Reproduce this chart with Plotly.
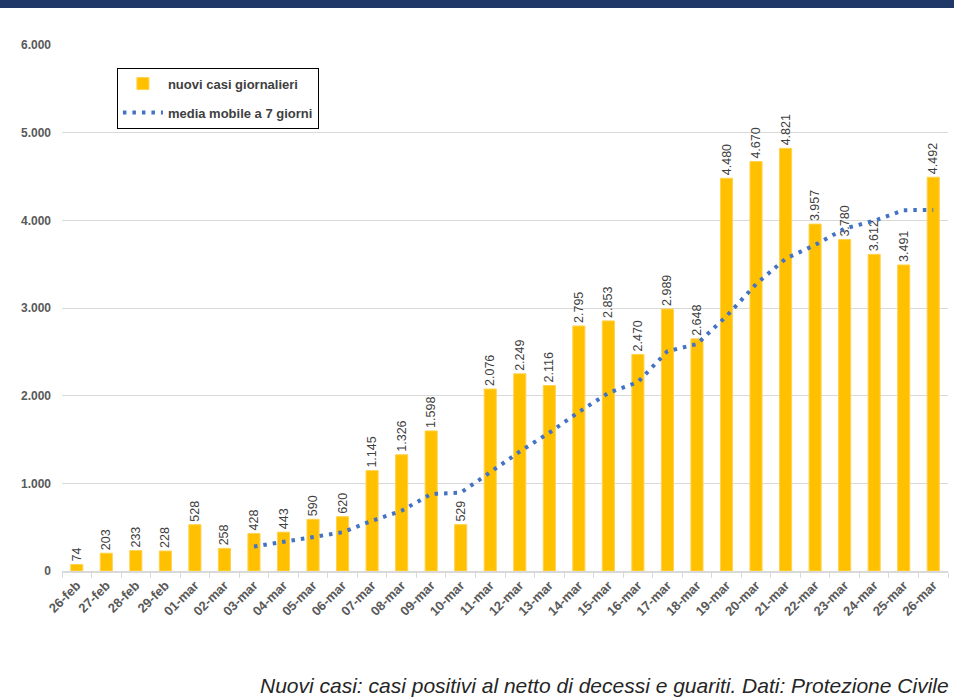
import plotly.graph_objects as go

dates = ["26-feb", "27-feb", "28-feb", "29-feb", "01-mar", "02-mar", "03-mar", "04-mar",
         "05-mar", "06-mar", "07-mar", "08-mar", "09-mar", "10-mar", "11-mar", "12-mar",
         "13-mar", "14-mar", "15-mar", "16-mar", "17-mar", "18-mar", "19-mar", "20-mar",
         "21-mar", "22-mar", "23-mar", "24-mar", "25-mar", "26-mar"]
new_cases = [74, 203, 233, 228, 528, 258, 428, 443, 590, 620, 1145, 1326, 1598, 529,
             2076, 2249, 2116, 2795, 2853, 2470, 2989, 2648, 4480, 4670, 4821, 3957,
             3780, 3612, 3491, 4492]
ma_dates = dates[6:]
moving_avg = [279, 332, 387, 442, 573, 687, 879, 893, 1126, 1363, 1577, 1813, 2031,
              2155, 2507, 2589, 2907, 3272, 3562, 3719, 3906, 3995, 4116, 4118]
y_ticks = [0, 1000, 2000, 3000, 4000, 5000, 6000]

FONT = "Liberation Sans, Arial, Helvetica, sans-serif"

fig = go.Figure()
fig.add_trace(go.Bar(
    x=dates, y=new_cases, name="nuovi casi giornalieri", legendgroup="a",
    marker=dict(color="#FFC000", line=dict(color="#FFD24D", width=1)),
    texttemplate="%{y:,}", textposition="outside", textangle=-90,
    constraintext="none",
    textfont=dict(family=FONT, size=12.5, color="#404040"),
    cliponaxis=False,
))
fig.add_trace(go.Scatter(
    x=ma_dates, y=moving_avg, name="media mobile a 7 giorni", mode="lines", legendgroup="b",
    line=dict(color="#4472C4", width=4, dash="3.5px,6px"),
))

fig.update_layout(
    width=954, height=697,
    margin=dict(l=62, r=6, t=45, b=126),
    paper_bgcolor="white", plot_bgcolor="white",
    separators=",.",
    bargap=0.59,
    font=dict(family=FONT, color="#595959"),
    showlegend=True,
    legend=dict(
        x=0.062, y=0.957, xanchor="left", yanchor="top",
        bgcolor="white", bordercolor="#000000", borderwidth=1,
        font=dict(family=FONT, size=13, color="#404040", weight="bold"),
        tracegroupgap=9, itemwidth=40,
    ),
    xaxis=dict(
        type="category", tickangle=-45,
        tickfont=dict(family=FONT, size=13, color="#595959", weight="bold"),
        showline=True, linecolor="#D9D9D9", linewidth=1.5,
        ticks="outside", tickson="boundaries", ticklen=5, tickcolor="#D9D9D9",
        showgrid=False,
    ),
    yaxis=dict(
        range=[0, 6000], tickvals=y_ticks, tickformat=",d",
        tickfont=dict(family=FONT, size=12, color="#595959", weight="bold"),
        ticklabelstandoff=10,
        showgrid=True, gridcolor="#D9D9D9", gridwidth=1.2,
        zeroline=False, showline=False, ticks="",
    ),
    shapes=[dict(type="rect", xref="paper", yref="paper",
                 x0=-0.08, x1=1.01, y0=(571 - 8) / 526, y1=(571 + 2) / 526,
                 fillcolor="#1F3868", line=dict(width=0), layer="above")],
    annotations=[dict(
        text="Nuovi casi: casi positivi al netto di decessi e guariti. Dati: Protezione Civile",
        xref="paper", yref="paper", x=(258 - 62) / 886, y=(571 - 685) / 526,
        xanchor="left", yanchor="middle", showarrow=False,
        font=dict(family=FONT, size=21, color="#262626", style="italic"),
    )],
)

fig.write_html("out.html", config={"displayModeBar": False},
               post_script="document.body.style.margin='0';document.body.style.overflow='hidden';")
